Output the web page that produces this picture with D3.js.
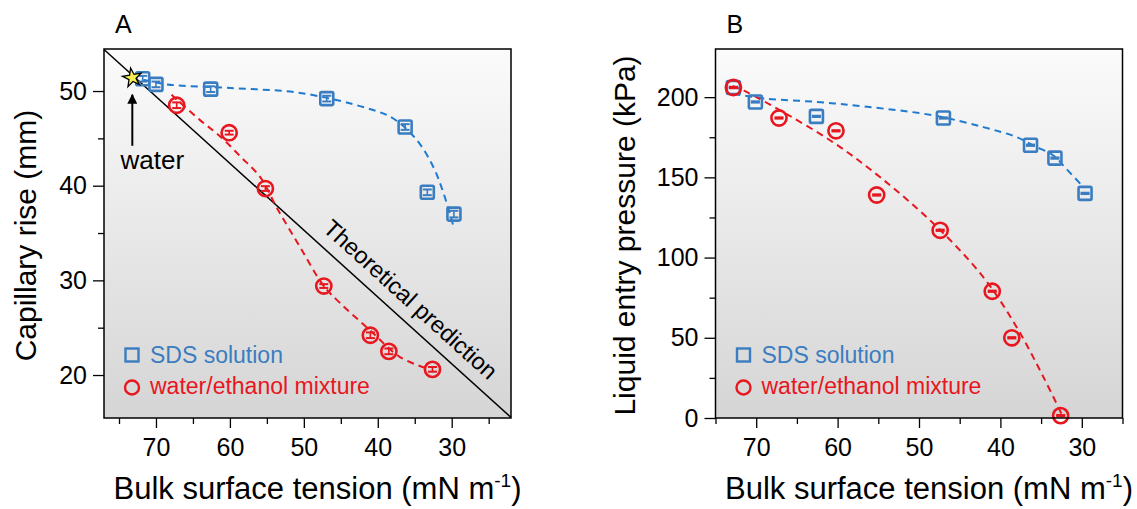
<!DOCTYPE html>
<meta charset="utf-8">
<style>
body { margin: 0; background: #fff; }
text { font-family: "Liberation Sans", Arial, Helvetica, sans-serif; fill: #000; }
.frame { fill: none; stroke: #000; stroke-width: 1.5; }
.axis path { display: none; }
.axis line { stroke: #000; stroke-width: 1.3; }
.axis text { font-size: 25px; font-family: "Liberation Sans", Arial, sans-serif; }
.fit { fill: none; stroke-width: 2; stroke-dasharray: 7,5; }
</style>
<body>
<script src="https://cdnjs.cloudflare.com/ajax/libs/d3/7.8.5/d3.min.js"></script>
<div id="chart"></div>
<script>

// ---- data ----
// panel A : capillary rise (mm) vs bulk surface tension (mN/m)
var waterA = [73.2, 51.4];
var sdsA_x = [71.8, 70.0, 62.6, 46.9, 36.3, 33.3, 29.7];
var sdsA_y = [51.3, 50.7, 50.2, 49.2, 46.2, 39.3, 37.0];
var sdsA_err = [0.3, 0.3, 0.3, 0.3, 0.3, 0.3, 0.35];
var ethA_x = [67.2, 60.1, 55.2, 47.3, 41.0, 38.5, 32.6];
var ethA_y = [48.5, 45.6, 39.7, 29.4, 24.2, 22.5, 20.6];
var ethA_err = [0.3, 0.2, 0.25, 0.2, 0.3, 0.3, 0.25];
// dashed fit curves (traced)
var sdsFitA_x = [71.7, 68.5, 59.5, 50.5, 41.5, 37.9, 34.7, 32.5, 31.1, 29.8];
var sdsFitA_y = [51.2, 50.7, 50.3, 49.8, 48.2, 47.1, 44.8, 42.0, 39.2, 35.8];
var ethFitA_x = [67.9, 64.0, 61.3, 58.6, 55.9, 53.6, 50.5, 47.3, 45.1, 41.0, 37.0, 33.0];
var ethFitA_y = [49.6, 46.9, 45.2, 43.1, 40.9, 37.6, 33.5, 29.4, 27.6, 24.7, 21.9, 20.6];
var xTicksA = [70, 60, 50, 40, 30];
var xMinorA = [75, 65, 55, 45, 35, 25];
var yTicksA = [20, 30, 40, 50];
var yMinorA = [25, 35, 45];

// panel B : liquid entry pressure (kPa)
var sdsB_x = [72.8, 70.1, 62.6, 47.0, 36.3, 33.3, 29.6];
var sdsB_y = [206, 197, 188, 187, 170, 162, 140];
var ethB_x = [72.8, 67.2, 60.2, 55.2, 47.4, 41.0, 38.6, 32.6];
var ethB_y = [206, 187, 179, 139, 117, 79, 50, 1.5];
var sdsFitB_x = [72.8, 68.7, 62.5, 56.4, 48.2, 42.1, 38.0, 36.0, 33.5, 31.9, 29.8];
var sdsFitB_y = [202, 199, 197, 194, 188.6, 181.3, 175.1, 169.9, 163.6, 155.3, 143.9];
var ethFitB_x = [72.9, 71.5, 66.6, 60.5, 54.8, 48.2, 42.1, 38.0, 34.7, 32.5];
var ethFitB_y = [207, 204, 190.4, 171.7, 150.2, 121.1, 87.8, 56.6, 25.4, 2.7];
var xTicksB = [70, 60, 50, 40, 30];
var xMinorB = [75, 65, 55, 45, 35, 25];
var yTicksB = [0, 50, 100, 150, 200];
var yMinorB = [25, 75, 125, 175];

var blue = "#3a7dc0", blueLine = "#1c7ad0", red = "#e8161e";
var pw = 407, ph = 369;

var svg = d3.select("#chart").append("svg")
    .attr("width", 1137)
    .attr("height", 509);

var defs = svg.append("defs");
var grad = defs.append("linearGradient").attr("id", "bg")
    .attr("x1", 0).attr("y1", 0).attr("x2", 0).attr("y2", 1);
grad.append("stop").attr("offset", "0%").attr("stop-color", "#fbfbfb");
grad.append("stop").attr("offset", "100%").attr("stop-color", "#d5d5d5");

defs.append("marker").attr("id", "arrow")
    .attr("viewBox", "0 0 10 10").attr("refX", 9).attr("refY", 5)
    .attr("markerWidth", 5).attr("markerHeight", 5).attr("markerUnits", "strokeWidth")
    .attr("orient", "auto")
  .append("path").attr("d", "M0,0L10,5L0,10z").attr("fill", "#000");

function zip(a, b) { return a.map(function(v, i) { return [v, b[i]]; }); }

function panel(left, top, x, y, xt, xm, yt, ym, ytitle, ytitleX, letter, letterX) {
  var g = svg.append("g").attr("transform", "translate(" + left + "," + top + ")");
  g.append("rect").attr("width", pw).attr("height", ph).attr("fill", "url(#bg)");

  g.append("g").attr("class", "axis").attr("transform", "translate(0," + ph + ")")
    .call(d3.axisBottom(x).tickValues(xt).tickSize(10).tickPadding(4))
    .selectAll("text").attr("dy", "0.95em");
  g.append("g").attr("class", "axis").attr("transform", "translate(0," + ph + ")")
    .call(d3.axisBottom(x).tickValues(xm).tickSize(6).tickFormat(""));
  g.append("g").attr("class", "axis")
    .call(d3.axisLeft(y).tickValues(yt).tickSize(11).tickPadding(6));
  g.append("g").attr("class", "axis")
    .call(d3.axisLeft(y).tickValues(ym).tickSize(6).tickFormat(""));

  var t = g.append("text").attr("x", pw / 2 + 10).attr("y", ph + 81)
    .attr("text-anchor", "middle").style("font-size", "31px");
  t.append("tspan").text("Bulk surface tension (mN m");
  t.append("tspan").text("-1").style("font-size", "19px").attr("dy", -12);
  t.append("tspan").text(")").attr("dy", 12);

  g.append("text").attr("transform", "translate(" + ytitleX + "," + (ph / 2 + 2) + ") rotate(-90)")
    .attr("text-anchor", "middle").style("font-size", "30px").text(ytitle);
  g.append("text").attr("x", letterX).attr("y", -16).style("font-size", "25px").text(letter);
  return g;
}

function fit(g, x, y, xs, ys, col) {
  var line = d3.line().x(function(d) { return x(d[0]); }).y(function(d) { return y(d[1]); })
    .curve(d3.curveCatmullRom);
  g.append("path").datum(zip(xs, ys)).attr("class", "fit").attr("stroke", col).attr("d", line);
}

function points(g, x, y, xs, ys, errs, col, shape) {
  var pts = g.selectAll(null).data(zip(xs, ys).map(function(d, i) { return [d[0], d[1], errs[i]]; }))
    .enter().append("g")
    .attr("transform", function(d) { return "translate(" + x(d[0]) + "," + y(d[1]) + ")"; });
  if (shape == "square") {
    pts.append("rect").attr("x", -6.5).attr("y", -6.5).attr("width", 13).attr("height", 13).attr("rx", 1.5)
      .attr("fill", "none").attr("stroke", col).attr("stroke-width", 2.6);
  } else {
    pts.append("circle").attr("r", 7.6).attr("fill", "none").attr("stroke", col).attr("stroke-width", 2.6);
  }
  // error bars
  pts.each(function(d) {
    var e = Math.abs(y(d[1] + d[2]) - y(d[1]));
    var s = d3.select(this);
    s.append("line").attr("y1", -e).attr("y2", e).attr("stroke", col).attr("stroke-width", 1.6);
    s.append("line").attr("x1", -4.5).attr("x2", 4.5).attr("y1", -e).attr("y2", -e)
      .attr("stroke", col).attr("stroke-width", 2);
    s.append("line").attr("x1", -4.5).attr("x2", 4.5).attr("y1", e).attr("y2", e)
      .attr("stroke", col).attr("stroke-width", 2);
  });
}

function legend(g, lx, col1, col2) {
  g.append("rect").attr("x", lx - 6.5).attr("y", 306 - 6.5).attr("width", 13).attr("height", 13)
    .attr("fill", "none").attr("stroke", col1).attr("stroke-width", 2.4);
  g.append("text").attr("x", lx + 18).attr("y", 314).style("font-size", "23px").style("fill", col1)
    .text("SDS solution");
  g.append("circle").attr("cx", lx).attr("cy", 338.5).attr("r", 7).attr("fill", "none")
    .attr("stroke", col2).attr("stroke-width", 2.4);
  g.append("text").attr("x", lx + 18).attr("y", 345).style("font-size", "23px").style("fill", col2)
    .text("water/ethanol mixture");
}

// ---- panel A ----
var xA = d3.scaleLinear().domain([77.03, 21.98]).range([0, pw]);
var yA = d3.scaleLinear().domain([15.46, 54.44]).range([ph, 0]);
var gA = panel(104, 49, xA, yA, xTicksA, xMinorA, yTicksA, yMinorA, "Capillary rise (mm)", -68, "A", 11);

// theoretical prediction: rise proportional to surface tension (Jurin)
var kA = waterA[1] / 72.8;
var theory = xA.domain().map(function(gm) { return [gm, kA * gm]; });
gA.append("path").datum(theory).attr("fill", "none").attr("stroke", "#000").attr("stroke-width", 1.5)
  .attr("d", d3.line().x(function(d) { return xA(d[0]); }).y(function(d) { return yA(d[1]); }));
var ang = Math.atan2(yA(theory[1][1]) - yA(theory[0][1]), xA(theory[1][0]) - xA(theory[0][0])) * 180 / Math.PI;
gA.append("text")
  .attr("transform", "translate(" + xA(37.4) + "," + yA(kA * 37.4) + ") rotate(" + ang + ")")
  .attr("text-anchor", "middle").attr("dy", -12).style("font-size", "23.5px").text("Theoretical prediction");

fit(gA, xA, yA, sdsFitA_x, sdsFitA_y, blueLine);
fit(gA, xA, yA, ethFitA_x, ethFitA_y, red);
points(gA, xA, yA, ethA_x, ethA_y, ethA_err, red, "circle");
points(gA, xA, yA, sdsA_x, sdsA_y, sdsA_err, blue, "square");

// water star and arrow
var wx = xA(waterA[0]), wy = yA(waterA[1]);
gA.append("path").attr("transform", "translate(" + wx + "," + wy + ") rotate(-10)")
  .attr("d", d3.symbol().type(d3.symbolStar).size(110)())
  .attr("fill", "#f4ee50").attr("stroke", "#000").attr("stroke-width", 1.3);
gA.append("line").attr("x1", wx).attr("x2", wx).attr("y1", wy + 68).attr("y2", wy + 17)
  .attr("stroke", "#000").attr("stroke-width", 2).attr("marker-end", "url(#arrow)");
gA.append("text").attr("x", wx + 20).attr("y", wy + 91).attr("text-anchor", "middle")
  .style("font-size", "26px").text("water");

legend(gA, 28, blue, red);

// ---- panel B ----
var xB = d3.scaleLinear().domain([75, 25]).range([0, pw]);
var yB = d3.scaleLinear().domain([0, 230]).range([ph, 0]);
var gB = panel(715.5, 49, xB, yB, xTicksB, xMinorB, yTicksB, yMinorB, "Liquid entry pressure (kPa)", -81, "B", 11);

fit(gB, xB, yB, sdsFitB_x, sdsFitB_y, blueLine);
fit(gB, xB, yB, ethFitB_x, ethFitB_y, red);
points(gB, xB, yB, sdsB_x, sdsB_y, sdsB_x.map(function() { return 0.4; }), blue, "square");
points(gB, xB, yB, ethB_x, ethB_y, ethB_x.map(function() { return 0.4; }), red, "circle");

legend(gB, 28, blue, red);

// frames on top
gA.append("rect").attr("class", "frame").attr("width", pw).attr("height", ph);
gB.append("rect").attr("class", "frame").attr("width", pw).attr("height", ph);

</script>
</body>
</html>
